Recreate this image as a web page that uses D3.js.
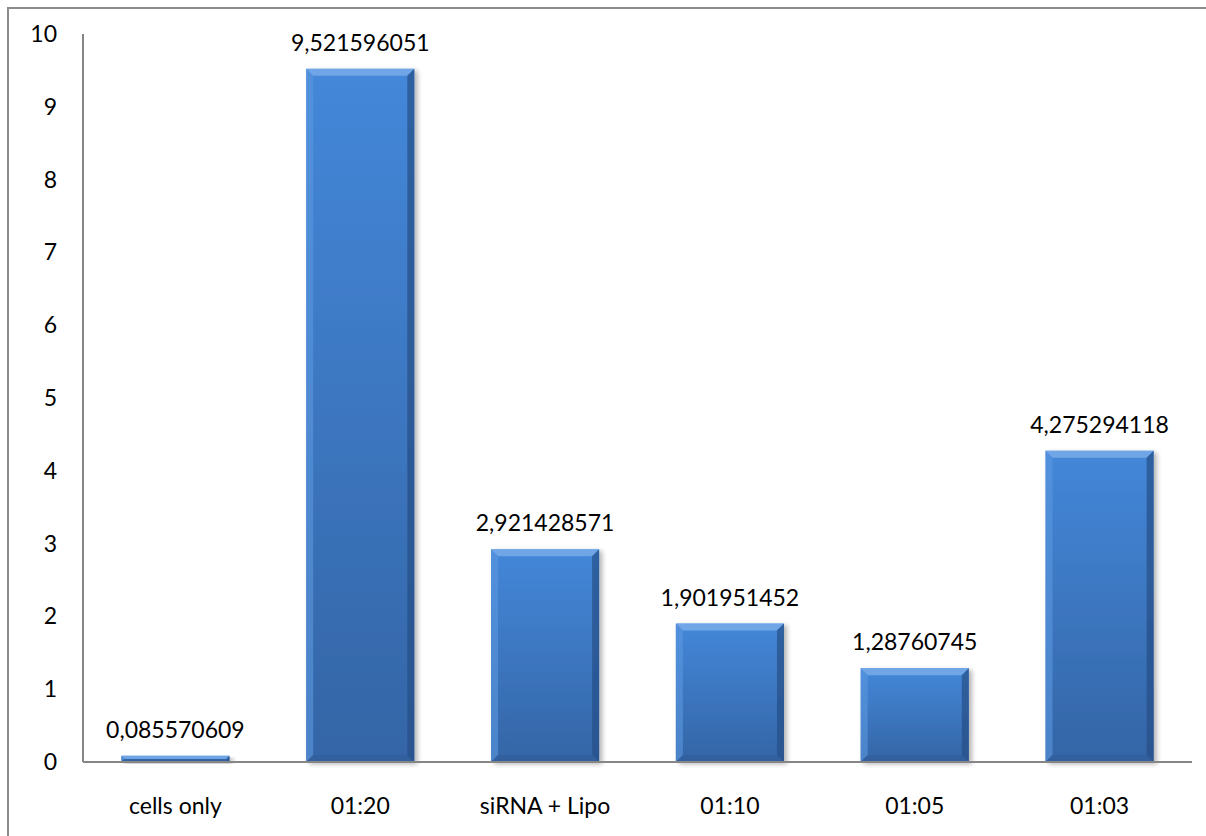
<!DOCTYPE html>
<html>
<head>
<meta charset="utf-8">
<script src="https://cdn.jsdelivr.net/npm/d3@7"></script>
<style>
  html, body { margin: 0; padding: 0; background: #fff; }
  svg { display: block; }
  text { font-family: Lato, "Open Sans", sans-serif; fill: #000; }
</style>
</head>
<body>
<svg id="chart" width="1206" height="836"></svg>
<script>
// Relative expression per condition
const categories = ["cells only", "01:20", "siRNA + Lipo", "01:10", "01:05", "01:03"];
const values = [0.085570609, 9.521596051, 2.921428571, 1.901951452, 1.28760745, 4.275294118];
const valueLabels = ["0,085570609", "9,521596051", "2,921428571", "1,901951452", "1,28760745", "4,275294118"];
const yTicks = [0, 1, 2, 3, 4, 5, 6, 7, 8, 9, 10];

const svg = d3.select("#chart");
const W = 1206, H = 836;
const plot = { left: 83, right: 1192, top: 34, bottom: 762 };
const fontSize = 23;

// Chart frame: top and left edges
svg.append("path")
  .attr("d", `M8,${H} L8,8 L${W},8`)
  .attr("fill", "none").attr("stroke", "#8c8c8c").attr("stroke-width", 2);

const x = d3.scaleBand()
  .domain(categories)
  .range([plot.left, plot.right])
  .paddingInner(0.415)
  .paddingOuter(0.2075);

const y = d3.scaleLinear().domain([0, 10]).range([plot.bottom, plot.top]);

const defs = svg.append("defs");
const body = defs.append("linearGradient").attr("id", "barBody")
  .attr("x1", 0).attr("y1", 0).attr("x2", 0).attr("y2", 1);
body.append("stop").attr("offset", "0%").attr("stop-color", "#4487d9");
body.append("stop").attr("offset", "100%").attr("stop-color", "#3465a6");

const shade = defs.append("filter").attr("id", "shadow")
  .attr("x", "-10%").attr("y", "-10%").attr("width", "130%").attr("height", "130%");
shade.append("feGaussianBlur").attr("in", "SourceAlpha").attr("stdDeviation", 2.5).attr("result", "b");
shade.append("feOffset").attr("in", "b").attr("dx", 3).attr("dy", 2).attr("result", "o");
shade.append("feComponentTransfer").attr("in", "o").attr("result", "s")
  .append("feFuncA").attr("type", "linear").attr("slope", 0.3);
const merge = shade.append("feMerge");
merge.append("feMergeNode").attr("in", "s");
merge.append("feMergeNode").attr("in", "SourceGraphic");

// Y axis labels
svg.append("g").selectAll("text")
  .data(yTicks)
  .join("text")
  .attr("x", 57)
  .attr("y", d => y(d))
  .attr("dy", "0.35em")
  .attr("text-anchor", "end")
  .attr("font-size", fontSize)
  .text(d => d);

const rows = categories.map((c, i) => ({ c, v: values[i], label: valueLabels[i] }));

// Bars with bevelled edges
const bars = svg.append("g").selectAll("g")
  .data(rows)
  .join("g")
  .attr("filter", "url(#shadow)");

bars.each(function (d) {
  const g = d3.select(this);
  const x0 = x(d.c), w = x.bandwidth();
  const y0 = y(d.v), h = y(0) - y(d.v);
  const b = Math.min(7, h / 2);
  g.append("rect").attr("x", x0).attr("y", y0).attr("width", w).attr("height", h)
    .attr("fill", "url(#barBody)");
  // top bevel
  g.append("path")
    .attr("d", `M${x0},${y0} L${x0 + w},${y0} L${x0 + w - b},${y0 + b} L${x0 + b},${y0 + b} Z`)
    .attr("fill", "#7aaeea").attr("opacity", 0.8);
  // left bevel
  g.append("path")
    .attr("d", `M${x0},${y0} L${x0 + b},${y0 + b} L${x0 + b},${y0 + h - b} L${x0},${y0 + h} Z`)
    .attr("fill", "#5b97df").attr("opacity", 0.6);
  // right bevel
  g.append("path")
    .attr("d", `M${x0 + w},${y0} L${x0 + w},${y0 + h} L${x0 + w - b},${y0 + h - b} L${x0 + w - b},${y0 + b} Z`)
    .attr("fill", "#274f86").attr("opacity", 0.7);
  // bottom bevel
  g.append("path")
    .attr("d", `M${x0},${y0 + h} L${x0 + w},${y0 + h} L${x0 + w - b},${y0 + h - b} L${x0 + b},${y0 + h - b} Z`)
    .attr("fill", "#2d5a95").attr("opacity", 0.55);
});

// Value labels above bars
svg.append("g").selectAll("text")
  .data(rows)
  .join("text")
  .attr("x", d => x(d.c) + x.bandwidth() / 2)
  .attr("y", d => y(d.v) - 18)
  .attr("text-anchor", "middle")
  .attr("font-size", fontSize)
  .text(d => d.label);

// Axis lines
svg.append("line")
  .attr("x1", plot.left).attr("x2", plot.left)
  .attr("y1", plot.top).attr("y2", plot.bottom)
  .attr("stroke", "#868686").attr("stroke-width", 2);
svg.append("line")
  .attr("x1", plot.left).attr("x2", plot.right)
  .attr("y1", plot.bottom).attr("y2", plot.bottom)
  .attr("stroke", "#868686").attr("stroke-width", 2);

// Category labels
svg.append("g").selectAll("text")
  .data(categories)
  .join("text")
  .attr("x", d => x(d) + x.bandwidth() / 2)
  .attr("y", 814)
  .attr("text-anchor", "middle")
  .attr("font-size", fontSize)
  .text(d => d);
</script>
</body>
</html>
